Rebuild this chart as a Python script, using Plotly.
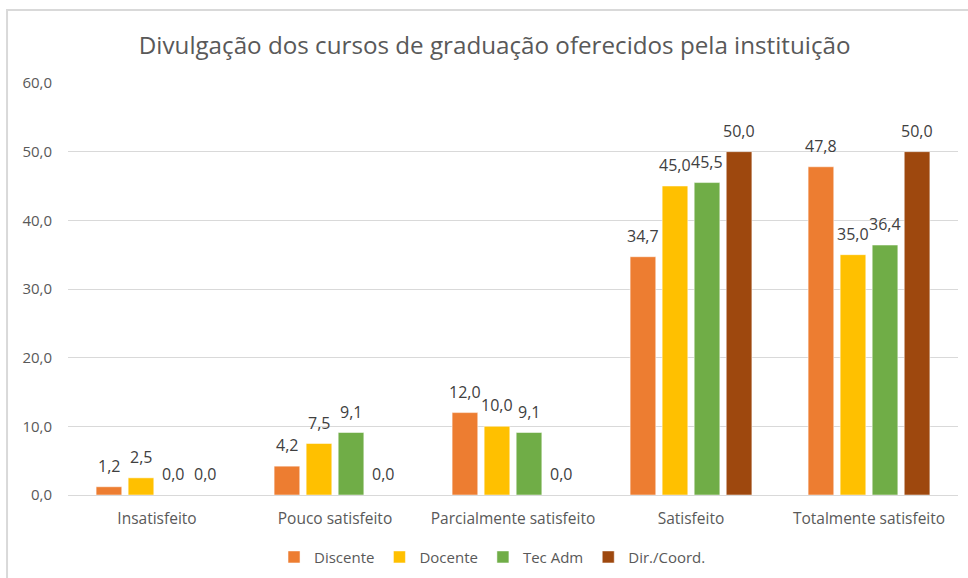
import plotly.graph_objects as go

categories = ["Insatisfeito", "Pouco satisfeito", "Parcialmente satisfeito", "Satisfeito", "Totalmente satisfeito"]
discente = [1.2, 4.2, 12.0, 34.7, 47.8]
docente = [2.5, 7.5, 10.0, 45.0, 35.0]
tec_adm = [0.0, 9.1, 9.1, 45.5, 36.4]
dir_coord = [0.0, 0.0, 0.0, 50.0, 50.0]
series_names = ["Discente", "Docente", "Tec Adm", "Dir./Coord."]
colors = ["#ED7D31", "#FFC000", "#70AD47", "#9E480E"]
title = "Divulgação dos cursos de graduação oferecidos pela instituição"
y_ticks = [0, 10, 20, 30, 40, 50, 60]

FONT = "Open Sans"
W, H = 968, 578
ML, MR, MT, MB = 68, 10, 83, 83
BARGAP = 0.28
series = [discente, docente, tec_adm, dir_coord]

fig = go.Figure()
for name, vals, col in zip(series_names, series, colors):
    fig.add_trace(go.Bar(
        x=categories, y=vals, name=name,
        marker=dict(color=col, line=dict(color="white", width=0.5)),
        hovertemplate="%{x}<br>" + name + ": %{y:.1f}<extra></extra>",
    ))

# data labels placed at each bar top through the axes
cat_px = (W - ML - MR) / len(categories)
slot = cat_px * (1 - BARGAP) / len(series)
annotations = []
for i, vals in enumerate(series):
    for cat, v in zip(categories, vals):
        annotations.append(dict(
            x=cat, y=v, xref="x", yref="y",
            text=f"{v:.1f}".replace(".", ","),
            showarrow=False, xanchor="center", yanchor="bottom",
            xshift=(i - (len(series) - 1) / 2) * slot, yshift=8,
            font=dict(family=FONT, size=16, color="#404040"),
        ))

fig.update_layout(
    width=W, height=H,
    margin=dict(l=ML, r=MR, t=MT, b=MB),
    paper_bgcolor="white", plot_bgcolor="white",
    barmode="group", bargap=BARGAP, bargroupgap=0.2,
    separators=",.",
    title=dict(text=title, x=0.511, xanchor="center", y=0.922, yanchor="middle",
               font=dict(family=FONT, size=24.2, color="#595959")),
    font=dict(family=FONT, color="#595959"),
    legend=dict(orientation="h", x=0.477, xanchor="center",
                yref="container", y=0.036, yanchor="middle",
                font=dict(family=FONT, size=15, color="#595959"),
                itemwidth=30, traceorder="normal"),
    annotations=annotations,
    shapes=[dict(type="rect", xref="paper", yref="paper",
                 x0=-0.0685, x1=1.2, y0=-0.4, y1=1.177,
                 line=dict(color="#d9d9d9", width=2), layer="below")],
)
fig.update_yaxes(range=[0, 60], tickvals=y_ticks, tickformat=".1f",
                 showgrid=True, gridcolor="#d9d9d9", gridwidth=1,
                 zeroline=False, showline=False, automargin=False,
                 tickfont=dict(family=FONT, size=15, color="#595959"),
                 ticks="", ticklabelstandoff=15)
fig.update_xaxes(showline=True, linecolor="#d9d9d9", linewidth=1, automargin=False,
                 tickfont=dict(family=FONT, size=15.5, color="#595959"),
                 ticks="", ticklabelstandoff=9)

fig.write_html("out.html", config={"displayModeBar": False},
               post_script="document.body.style.margin='0';")
